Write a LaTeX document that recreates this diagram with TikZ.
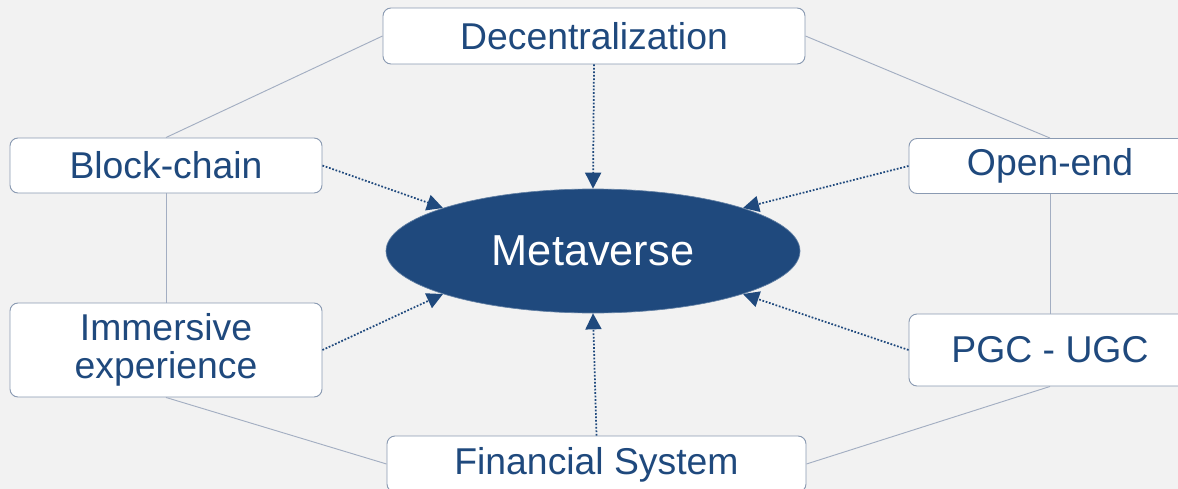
\documentclass[tikz,border=0pt]{standalone}
\usepackage{fontspec}
\setmainfont{Liberation Sans}
\usetikzlibrary{shapes.geometric,arrows.meta}
\definecolor{bg}{HTML}{F2F2F2}
\definecolor{navy}{HTML}{1F497D}
\definecolor{boxline}{HTML}{8A9AB2}
\definecolor{link}{HTML}{A3AEC2}
\tikzset{
  box/.style={draw=boxline,line width=0.7pt,fill=white,rounded corners=6pt,
    text=navy,font=\fontsize{28}{28.5}\selectfont,align=center,inner sep=0pt},
  hub/.style={ellipse,fill=navy,draw=navy!70!white,line width=0.5pt,text=white,
    font=\fontsize{32.5}{34}\selectfont,inner sep=0pt,minimum width=310.5pt,minimum height=93pt},
  link/.style={draw=link,line width=0.7pt},
  feed/.style={draw=navy,line width=1.3pt,dash pattern=on 1.3pt off 1.3pt,
    -{Triangle[length=12pt,width=12pt]}}
}
\begin{document}
\begin{tikzpicture}[x=0.75pt,y=-0.75pt]
\fill[bg] (0,0) rectangle (1178,489);
\useasboundingbox (0,0) rectangle (1178,489);
\clip (0,0) rectangle (1178,489);
\node[box,minimum width=316.5pt,minimum height=42pt] (dec) at (594,36) {Decentralization};
\node[box,minimum width=234pt,minimum height=41.25pt] (bc) at (166,165.5) {Block-chain};
\node[box,minimum width=234pt,minimum height=70.5pt] (imm) at (166,350) {Immersive\\experience};
\node[box,minimum width=211.5pt,minimum height=41.25pt] (oe) at (1050,166) {Open-end};
\node[box,minimum width=211.5pt,minimum height=54pt] (pgc) at (1050,350) {PGC - UGC};
\node[box,minimum width=314.25pt,minimum height=42pt] (fs) at (596.5,464) {\raisebox{-8pt}[0pt][0pt]{Financial System}};
\node[hub] (meta) at (593,251) {Metaverse};
\draw[link] (dec.west) -- (bc.north);
\draw[link] (dec.east) -- (oe.north);
\draw[link] (bc.south) -- (imm.north);
\draw[link] (oe.south) -- (pgc.north);
\draw[link] (imm.south) -- (fs.west);
\draw[link] (pgc.south) -- (fs.east);
\draw[feed] (dec.south) -- (meta.north);
\draw[feed] (bc.east) -- (meta.164);
\draw[feed] (imm.east) -- (meta.196);
\draw[feed] (oe.west) -- (meta.16);
\draw[feed] (pgc.west) -- (meta.-16);
\draw[feed] (fs.north) -- (meta.south);
\end{tikzpicture}
\end{document}
